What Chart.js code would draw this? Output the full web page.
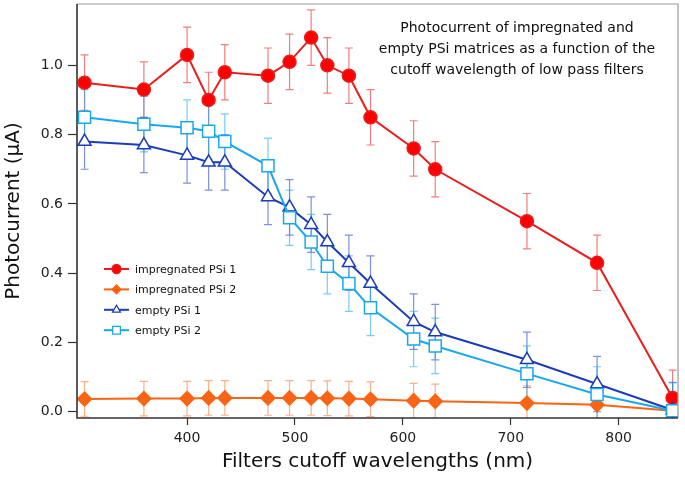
<!DOCTYPE html>
<html>
<head>
<meta charset="utf-8">
<script src="https://cdn.jsdelivr.net/npm/chart.js@4/dist/chart.umd.min.js"></script>
<style>
  html, body { margin: 0; padding: 0; background: #fff; }
  #wrap { width: 685px; height: 477px; }
</style>
</head>
<body>
<div id="wrap"><canvas id="chart"></canvas></div>
<script>
// filter cutoff wavelengths (nm)
var wavelengths = [305, 360, 400, 420, 435, 475, 495, 515, 530, 550, 570, 610, 630, 715, 780, 850];

// photocurrent (uA) per sample, with error bar half-heights
var impregnated1    = [0.95, 0.93, 1.03, 0.90, 0.98, 0.97, 1.01, 1.08, 1.00, 0.97, 0.85, 0.76, 0.70, 0.55, 0.43, 0.04];
var impregnated1Err = [0.08, 0.08, 0.08, 0.08, 0.08, 0.08, 0.08, 0.08, 0.08, 0.08, 0.08, 0.08, 0.08, 0.08, 0.08, 0.08];
var impregnated2    = [0.037, 0.038, 0.038, 0.040, 0.040, 0.040, 0.040, 0.040, 0.039, 0.038, 0.036, 0.032, 0.030, 0.025, 0.020, 0.003];
var impregnated2Err = [0.05, 0.05, 0.05, 0.05, 0.05, 0.05, 0.05, 0.05, 0.05, 0.05, 0.05, 0.05, 0.05, 0.05, 0.05, 0.05];
var empty1          = [0.78, 0.77, 0.74, 0.72, 0.72, 0.62, 0.59, 0.54, 0.49, 0.43, 0.37, 0.26, 0.23, 0.15, 0.08, 0.005];
var empty1Err       = [0.08, 0.08, 0.08, 0.08, 0.08, 0.08, 0.08, 0.08, 0.08, 0.08, 0.08, 0.08, 0.08, 0.08, 0.08, 0.08];
var empty2          = [0.85, 0.83, 0.82, 0.81, 0.78, 0.71, 0.56, 0.49, 0.42, 0.37, 0.30, 0.21, 0.19, 0.11, 0.05, 0.003];
var empty2Err       = [0.08, 0.08, 0.08, 0.08, 0.08, 0.08, 0.08, 0.08, 0.08, 0.08, 0.08, 0.08, 0.08, 0.08, 0.08, 0.08];

var seriesNames = ['impregnated PSi 1', 'impregnated PSi 2', 'empty PSi 1', 'empty PSi 2'];
var xTicks = [400, 500, 600, 700, 800];
var yTicks = [0.0, 0.2, 0.4, 0.6, 0.8, 1.0];
var note = ['Photocurrent of impregnated and',
            'empty PSi matrices as a function of the',
            'cutoff wavelength of low pass filters'];

var FONT = '"DejaVu Sans", sans-serif';

function pts(ys) {
  return wavelengths.map(function (x, i) { return { x: x, y: ys[i] }; });
}

function series(label, ys, errs, color, errColor, style, radius, fill) {
  return {
    label: label,
    data: pts(ys),
    errors: errs,
    errColor: errColor,
    borderColor: color,
    backgroundColor: fill,
    borderWidth: 2,
    pointStyle: style,
    pointRadius: radius,
    pointBorderWidth: 1.5,
    pointBorderColor: color,
    pointBackgroundColor: fill,
    tension: 0
  };
}

var datasets = [
  series(seriesNames[0], impregnated1, impregnated1Err, '#e81e1e', 'rgba(232,40,40,0.6)', 'circle', 6.5, '#ff0000'),
  series(seriesNames[1], impregnated2, impregnated2Err, '#fa6414', 'rgba(250,110,40,0.55)', 'rectRot', 7, '#fa6414'),
  series(seriesNames[2], empty1, empty1Err, '#1c3cb8', 'rgba(40,70,200,0.6)', 'triangle', 7.5, '#ffffff'),
  series(seriesNames[3], empty2, empty2Err, '#1aa8ec', 'rgba(30,170,240,0.6)', 'rect', 8.5, '#ffffff')
];
datasets[0].order = 3;
datasets[1].order = 4;
datasets[2].order = 2;
datasets[3].order = 1;

function marker(ctx, style, x, y, r, stroke, fill) {
  ctx.save();
  ctx.beginPath();
  if (style === 'circle') {
    ctx.arc(x, y, r, 0, Math.PI * 2);
  } else if (style === 'rectRot') {
    ctx.moveTo(x, y - r); ctx.lineTo(x + r, y); ctx.lineTo(x, y + r); ctx.lineTo(x - r, y);
    ctx.closePath();
  } else if (style === 'triangle') {
    ctx.moveTo(x, y - r); ctx.lineTo(x + r * 0.866, y + r * 0.5); ctx.lineTo(x - r * 0.866, y + r * 0.5);
    ctx.closePath();
  } else {
    ctx.rect(x - r * 0.707, y - r * 0.707, r * 1.414, r * 1.414);
  }
  ctx.fillStyle = fill;
  ctx.fill();
  ctx.lineWidth = 1.3;
  ctx.strokeStyle = stroke;
  ctx.stroke();
  ctx.restore();
}

var extras = {
  id: 'extras',
  beforeDatasetsDraw: function (chart) {
    var ctx = chart.ctx, a = chart.chartArea, ys = chart.scales.y;
    ctx.save();
    ctx.beginPath();
    ctx.rect(a.left, a.top, a.right - a.left, a.bottom - a.top);
    ctx.clip();
    chart.data.datasets.forEach(function (ds, di) {
      var meta = chart.getDatasetMeta(di);
      ctx.strokeStyle = ds.errColor;
      ctx.lineWidth = 1.2;
      meta.data.forEach(function (p, i) {
        var v = ds.data[i].y, e = ds.errors[i];
        var top = ys.getPixelForValue(v + e), bot = ys.getPixelForValue(v - e);
        ctx.beginPath();
        ctx.moveTo(p.x, top); ctx.lineTo(p.x, bot);
        ctx.moveTo(p.x - 4, top); ctx.lineTo(p.x + 4, top);
        ctx.moveTo(p.x - 4, bot); ctx.lineTo(p.x + 4, bot);
        ctx.stroke();
      });
    });
    ctx.restore();
  },
  afterDraw: function (chart) {
    var ctx = chart.ctx, a = chart.chartArea;
    ctx.save();
    // frame
    ctx.strokeStyle = '#9a9a9a';
    ctx.lineWidth = 1.2;
    ctx.beginPath();
    ctx.moveTo(a.left, a.top); ctx.lineTo(a.right, a.top); ctx.lineTo(a.right, a.bottom);
    ctx.stroke();
    ctx.strokeStyle = '#333';
    ctx.lineWidth = 1.6;
    ctx.beginPath();
    ctx.moveTo(a.left, a.top); ctx.lineTo(a.left, a.bottom); ctx.lineTo(a.right, a.bottom);
    ctx.stroke();

    // annotation
    ctx.fillStyle = '#111';
    ctx.font = '14px ' + FONT;
    ctx.textAlign = 'center';
    ctx.textBaseline = 'middle';
    note.forEach(function (t, i) { ctx.fillText(t, 517, 28 + i * 21); });

    // legend
    ctx.font = '11px ' + FONT;
    ctx.textAlign = 'left';
    chart.data.datasets.forEach(function (ds, i) {
      var y = 269 + i * 20.4;
      ctx.strokeStyle = ds.borderColor;
      ctx.lineWidth = 2;
      ctx.beginPath(); ctx.moveTo(104, y); ctx.lineTo(129, y); ctx.stroke();
      marker(ctx, ds.pointStyle, 116.5, y, ds.pointStyle === 'rect' ? 5.5 : 4.5, ds.borderColor, ds.pointBackgroundColor);
      ctx.fillStyle = '#111';
      ctx.fillText(ds.label, 135, y + 1);
    });
    ctx.restore();
  }
};

new Chart(document.getElementById('chart'), {
  type: 'line',
  data: { datasets: datasets },
  plugins: [extras],
  options: {
    responsive: true,
    maintainAspectRatio: false,
    animation: false,
    events: [],
    layout: { autoPadding: false, padding: { top: 4, right: 7, left: 0, bottom: 0 } },
    plugins: { legend: { display: false }, tooltip: { enabled: false } },
    scales: {
      x: {
        type: 'linear',
        min: 298,
        max: 855,
        afterBuildTicks: function (s) { s.ticks = xTicks.map(function (v) { return { value: v }; }); },
        afterFit: function (s) { s.height = 59; s.paddingLeft = 0; s.paddingRight = 0; },
        grid: { drawOnChartArea: false, tickLength: 7, tickColor: '#333', tickWidth: 1.2 },
        border: { display: false },
        ticks: { color: '#222', font: { family: FONT, size: 14 }, padding: 5, maxRotation: 0 },
        title: { display: true, text: 'Filters cutoff wavelengths (nm)', color: '#111',
                 font: { family: FONT, size: 20 }, padding: { top: 0, bottom: 3 } }
      },
      y: {
        type: 'linear',
        min: -0.018,
        max: 1.177,
        afterBuildTicks: function (s) { s.ticks = yTicks.map(function (v) { return { value: v }; }); },
        afterFit: function (s) { s.width = 77; s.paddingTop = 0; s.paddingBottom = 0; },
        grid: { drawOnChartArea: false, tickLength: 9, tickColor: '#333', tickWidth: 1.2 },
        border: { display: false },
        ticks: { color: '#222', font: { family: FONT, size: 14 }, padding: 5,
                 callback: function (v) { return v.toFixed(1); } },
        title: { display: true, text: 'Photocurrent (μA)', color: '#111',
                 font: { family: FONT, size: 20 }, padding: { top: 2, bottom: 0 } }
      }
    }
  }
});
</script>
</body>
</html>
